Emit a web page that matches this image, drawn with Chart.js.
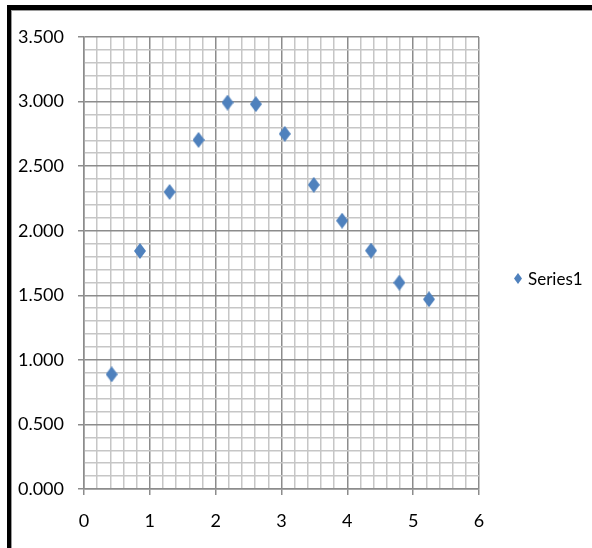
<!DOCTYPE html>
<html>
<head>
<meta charset="utf-8">
<script src="https://cdn.jsdelivr.net/npm/chart.js@4/dist/chart.umd.min.js"></script>
<style>
  html, body { margin: 0; padding: 0; background: #fff; }
  #wrap { position: relative; width: 592px; height: 548px; overflow: hidden; }
  #chart { position: absolute; left: 0; top: 0; }
  #frame { position: absolute; left: 7px; top: 5px; width: 700px; height: 700px;
           border-left: 4px solid #000; border-top: 5px solid #000; pointer-events: none; }
  #frame-inner { position: absolute; left: 0; top: 0; width: 100%; height: 100%;
           border-left: 1px solid #9a9a9a; border-top: 1px solid #9a9a9a; }
</style>
</head>
<body>
<div id="wrap">
  <canvas id="chart" width="592" height="548"></canvas>
  <div id="frame"><div id="frame-inner"></div></div>
</div>
<script>
// Measured series
const seriesName = 'Series1';
const xValues = [0.42, 0.85, 1.30, 1.74, 2.18, 2.61, 3.05, 3.49, 3.92, 4.36, 4.79, 5.24];
const yValues = [0.888, 1.843, 2.300, 2.703, 2.992, 2.980, 2.750, 2.355, 2.078, 1.846, 1.598, 1.469];

// Axis ranges and spacing
const xMin = 0, xMax = 6, xMajor = 1, xMinor = 0.2;
const yMin = 0, yMax = 3.5, yMajor = 0.5, yMinor = 0.1;

const FONT = "Lato, 'DejaVu Sans', sans-serif";
const MARK_COLOR = '#4f81bd';
const MAJOR_GRID = '#8c8c8c';
const MINOR_GRID = '#c6c6c6';

function isMajor(v, step) {
  const q = v / step;
  return Math.abs(q - Math.round(q)) < 1e-6;
}

// Tall diamond marker
function diamond(w, h, color) {
  const c = document.createElement('canvas');
  c.width = w; c.height = h;
  const g = c.getContext('2d');
  g.fillStyle = color;
  g.beginPath();
  g.moveTo(w / 2, 0);
  g.lineTo(w, h / 2);
  g.lineTo(w / 2, h);
  g.lineTo(0, h / 2);
  g.closePath();
  g.fill();
  return c;
}
const marker = diamond(12, 16, MARK_COLOR);
const legendMarker = diamond(8, 11, MARK_COLOR);

const points = xValues.map((x, i) => ({ x: x, y: yValues[i] }));

// Legend drawn to the right of the plot
const sideLegend = {
  id: 'sideLegend',
  afterDraw(chart) {
    const ctx = chart.ctx;
    const ds = chart.data.datasets[0];
    const lx = 514, ly = 279;
    ctx.save();
    ctx.drawImage(legendMarker, lx, ly - 6);
    ctx.fillStyle = '#000';
    ctx.font = '17px ' + FONT;
    ctx.textBaseline = 'middle';
    ctx.textAlign = 'left';
    ctx.fillText(ds.label, lx + 14, ly + 1);
    ctx.restore();
  }
};

new Chart(document.getElementById('chart'), {
  type: 'scatter',
  data: {
    datasets: [{
      label: seriesName,
      data: points,
      pointStyle: marker,
      pointRadius: 8,
      pointHoverRadius: 8,
      backgroundColor: MARK_COLOR,
      borderColor: MARK_COLOR
    }]
  },
  options: {
    responsive: false,
    animation: false,
    events: [],
    layout: { padding: { left: 0, top: 37, right: 113, bottom: 0 } },
    plugins: { legend: { display: false }, tooltip: { enabled: false } },
    scales: {
      x: {
        type: 'linear',
        min: xMin, max: xMax,
        afterFit(scale) { scale.height = 59; },
        border: { color: MAJOR_GRID, width: 1.5 },
        grid: {
          lineWidth: 1.5,
          color: c => isMajor(c.tick.value, xMajor) ? MAJOR_GRID : MINOR_GRID,
          tickColor: c => isMajor(c.tick.value, xMajor) ? MAJOR_GRID : 'rgba(0,0,0,0)',
          tickLength: 6
        },
        ticks: {
          stepSize: xMinor,
          autoSkip: false,
          maxRotation: 0,
          padding: 15,
          color: '#000',
          font: { family: FONT, size: 18 },
          callback: v => isMajor(v, xMajor) ? String(Math.round(v)) : ''
        }
      },
      y: {
        type: 'linear',
        min: yMin, max: yMax,
        afterFit(scale) { scale.width = 84; },
        border: { color: MAJOR_GRID, width: 1.5 },
        grid: {
          lineWidth: 1.5,
          color: c => isMajor(c.tick.value, yMajor) ? MAJOR_GRID : MINOR_GRID,
          tickColor: c => isMajor(c.tick.value, yMajor) ? MAJOR_GRID : 'rgba(0,0,0,0)',
          tickLength: 6
        },
        ticks: {
          stepSize: yMinor,
          autoSkip: false,
          padding: 14,
          color: '#000',
          font: { family: FONT, size: 18 },
          callback: v => isMajor(v, yMajor) ? v.toFixed(3) : ''
        }
      }
    }
  },
  plugins: [sideLegend]
});
</script>
</body>
</html>
